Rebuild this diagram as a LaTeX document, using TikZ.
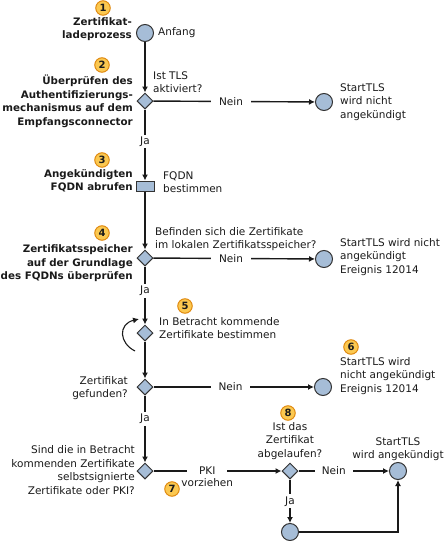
\documentclass[tikz,border=0pt]{standalone}
\usepackage{fontspec}
\setmainfont{DejaVu Sans}
\usetikzlibrary{shapes.geometric,arrows.meta}
\definecolor{nodefill}{HTML}{A6BDD7}
\definecolor{nodeline}{HTML}{333333}
\definecolor{badgefill}{HTML}{FBC850}
\definecolor{badgeline}{HTML}{E08A10}
\definecolor{ink}{HTML}{1A1A1A}
\begin{document}
\begin{tikzpicture}[x=1pt,y=-1pt,
 txt/.style={font=\fontsize{10.5}{13.5}\selectfont, inner sep=0pt, text=ink},
 btxt/.style={txt, font=\fontsize{10.3}{13.5}\selectfont\bfseries, align=right, anchor=east},
 rtxt/.style={txt, align=right, anchor=east},
 ltxt/.style={txt, align=left, anchor=west},
 ctxt/.style={txt, align=center},
 endc/.style={circle, draw=nodeline, fill=nodefill, line width=1pt, minimum size=17pt, inner sep=0pt},
 dec/.style={diamond, draw=nodeline, fill=nodefill, line width=1pt, minimum size=16pt, inner sep=0pt},
 proc/.style={rectangle, draw=nodeline, fill=nodefill, line width=1pt, minimum width=18pt, minimum height=10pt, inner sep=0pt},
 badge/.style={circle, draw=badgeline, fill=badgefill, line width=1pt, minimum size=14.5pt, inner sep=0pt, text=ink, font=\fontsize{10}{10}\selectfont\bfseries},
 flow/.style={line width=1.4pt, draw=ink},
 arr/.style={flow, -{Latex[length=6pt,width=6pt]}},
 labh/.style={txt, fill=white, inner xsep=8pt, inner ysep=2pt},
 labv/.style={txt, fill=white, inner xsep=2pt, inner ysep=2pt},
]
\useasboundingbox (0,0) rectangle (447,541);

% shapes
\node[endc] (start) at (145,33) {};
\node[dec] (d2) at (145,101) {};
\node[endc] (e1) at (324,102) {};
\node[proc] (p3) at (145,186) {};
\node[dec] (d4) at (145,258) {};
\node[endc] (e2) at (324,259) {};
\node[dec] (d5) at (145,333) {};
\node[dec] (d6) at (145,387) {};
\node[endc] (e3) at (323,387) {};
\node[dec] (d7) at (145,471) {};
\node[dec] (d8) at (290,471) {};
\node[endc] (e4) at (398,471) {};
\node[endc] (e5) at (290,532) {};

% badges
\node[badge] (b1) at (103,8) {1};
\node[badge] (b2) at (102,65) {2};
\node[badge] (b3) at (102,160) {3};
\node[badge] (b4) at (102,233) {4};
\node[badge] (b5) at (185,306) {5};
\node[badge] (b6) at (351,347) {6};
\node[badge] (b7) at (172,489) {7};
\node[badge] (b8) at (288,413) {8};

% texts
\node[btxt] (t1) at (132,29) {Zertifikat-\\ladeprozess};
\node[ltxt] (t1b) at (158,33) {Anfang};
\node[btxt] (t2) at (133,101.5) {Überprüfen des\\Authentifizierungs-\\mechanismus auf dem\\Empfangsconnector};
\node[ltxt] (t2b) at (153,82) {Ist TLS\\aktiviert?};
\node[ltxt] (te1) at (340,102) {StartTLS\\wird nicht\\angekündigt};
\node[btxt] (t3) at (133,181) {Angekündigten\\FQDN abrufen};
\node[ltxt] (t3b) at (163,182) {FQDN\\bestimmen};
\node[btxt] (t4) at (133,263.5) {Zertifikatsspeicher\\auf der Grundlage\\des FQDNs überprüfen};
\node[ltxt] (t4b) at (155,239) {Befinden sich die Zertifikate\\im lokalen Zertifikatsspeicher?};
\node[ltxt] (te2) at (340,257) {StartTLS wird nicht\\angekündigt\\Ereignis 12014};
\node[ltxt] (t5) at (159,328) {In Betracht kommende\\Zertifikate bestimmen};
\node[rtxt] (t6) at (128,388) {Zertifikat\\gefunden?};
\node[ltxt] (te3) at (340,376) {StartTLS wird\\nicht angekündigt\\Ereignis 12014};
\node[rtxt] (t7) at (135,470) {Sind die in Betracht\\kommenden Zertifikate\\selbstsignierte\\Zertifikate oder PKI?};
\node[ctxt] (t8) at (290,441) {Ist das\\Zertifikat\\abgelaufen?};
\node[ctxt] (te4) at (398,449) {StartTLS\\wird angekündigt};

% connectors
\draw[arr] (start) -- (d2);
\draw[arr] (d2) -- node[labh, pos=0.48]{Nein} (e1);
\draw[arr] (d2) -- node[labv, pos=0.45]{Ja} (p3);
\draw[arr] (p3) -- (d4);
\draw[arr] (d4) -- node[labh, pos=0.48]{Nein} (e2);
\draw[arr] (d4) -- node[labv, pos=0.42]{Ja} (d5);
\draw[arr] (d5) -- (d6);
\draw[arr] (d6) -- node[labh, pos=0.48]{Nein} (e3);
\draw[arr] (d6) -- node[labv, pos=0.35]{Ja} (d7);
\draw[arr] (d7) -- node[labh, pos=0.42, inner xsep=12pt] (pki) {PKI} (d8);
\node[txt, anchor=north] (vz) at ([yshift=-1pt]pki.south) {vorziehen};
\draw[arr] (d8) -- node[labh, pos=0.39, inner xsep=7pt]{Nein} (e4);
\draw[arr] (d8) -- node[labv]{Ja} (e5);
\draw[arr] (e5) -| (e4);

% loop arrow
\coordinate (cl1) at (135,351);
\coordinate (cl2) at (139,319);
\draw[flow, line width=1.1pt, -{Latex[length=6pt,width=6pt]}] (cl1) .. controls (119,343) and (118,324) .. (cl2);
\end{tikzpicture}
\end{document}
